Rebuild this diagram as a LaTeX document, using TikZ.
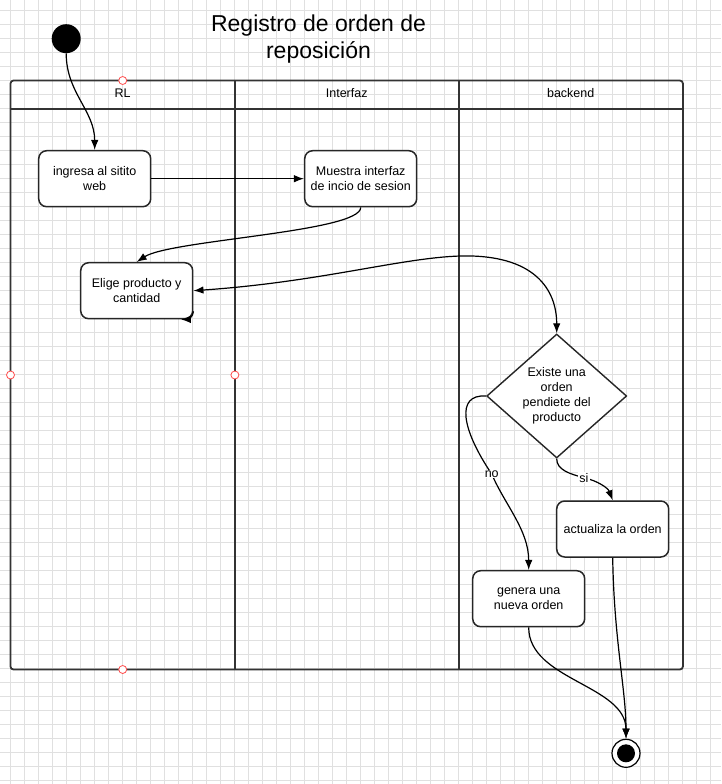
\documentclass[tikz,border=0pt]{standalone}
\usepackage{fontspec}
\setmainfont{Liberation Sans}
\usetikzlibrary{arrows.meta,shapes.geometric}

\tikzset{
	gridline/.style={draw=black!12, line width=0.8pt},
	lanebox/.style={minimum width=224pt, minimum height=588.6pt, inner sep=0pt},
	laneline/.style={draw=black!80, line width=1.8pt},
	lanelabel/.style={font=\fontsize{12.5}{15}\selectfont},
	state/.style={draw=black!85, line width=1.5pt, fill=white, rounded corners=8pt, minimum width=112pt, minimum height=56pt, align=center, inner sep=2pt, font=\fontsize{12.5}{15}\selectfont},
	decision/.style={diamond, aspect=1.13, draw=black!85, line width=1.4pt, fill=white, minimum width=140pt, minimum height=124pt, inner sep=0pt, align=center, font=\fontsize{12.5}{15}\selectfont},
	initial/.style={circle, fill=black, minimum size=29pt, inner sep=0pt},
	final/.style={circle, draw=black, line width=1.2pt, fill=white, minimum size=28pt, inner sep=0pt, path picture={\fill[black] (path picture bounding box.center) circle (9pt);}},
	handle/.style={circle, draw=red!70, fill=white, line width=0.8pt, minimum size=8pt, inner sep=0pt},
	guard/.style={fill=white, inner sep=1pt, font=\fontsize{12.5}{15}\selectfont},
	flow/.style={-{Latex[length=10pt,width=7.5pt]}, line width=1.2pt},
	flowboth/.style={{Latex[length=10pt,width=7.5pt]}-{Latex[length=10pt,width=7.5pt]}, line width=1.2pt}
}

\begin{document}
\begin{tikzpicture}[x=1pt, y=-1pt]

	\useasboundingbox[fill=white] (0,0) rectangle (721,784);
	\foreach \k in {0,...,50} \draw[gridline] (10.7+14*\k,0) -- (10.7+14*\k,784);
	\foreach \k in {0,...,55} \draw[gridline] (0,10.7+14*\k) -- (721,10.7+14*\k);

	\node[font=\fontsize{23}{26.5}\selectfont, align=center] (title) at (318.5, 39) {Registro de orden de\\reposición};

	% swimlanes
	\node[lanebox] (laneRL)   at (122.7, 375) {};
	\node[lanebox] (laneInt)  at (346.7, 375) {};
	\node[lanebox] (laneBack) at (570.7, 375) {};
	\draw[laneline, rounded corners=3pt] (laneRL.north west) rectangle (laneBack.south east);
	\draw[laneline] (10.7, 108.7) -- (682.7, 108.7);
	\draw[laneline] (laneRL.north east) -- (laneRL.south east);
	\draw[laneline] (laneInt.north east) -- (laneInt.south east);
	\node[lanelabel] (hRL)   at (122.7, 93.5) {RL};
	\node[lanelabel] (hInt)  at (346.7, 93.5) {Interfaz};
	\node[lanelabel] (hBack) at (570.7, 93.5) {backend};

	\node[handle] (hN) at (laneRL.north) {};
	\node[handle] (hW) at (laneRL.west)  {};
	\node[handle] (hE) at (laneRL.east)  {};
	\node[handle] (hS) at (laneRL.south) {};

	% states
	\node[initial]  (start)     at (66.2, 38.7)   {};
	\node[state]    (ingresa)   at (94.7, 178.7)  {ingresa al sitito\\web};
	\node[state]    (muestra)   at (360.7, 178.7) {Muestra interfaz\\de incio de sesion};
	\node[state]    (elige)     at (136.7, 290.7) {Elige producto y\\cantidad};
	\node[decision] (existe)    at (556.7, 396)   {Existe una\\orden\\pendiete del\\producto};
	\node[state]    (actualiza) at (612.7, 529)   {actualiza la orden};
	\node[state]    (genera)    at (528.7, 598.7) {genera una\\nueva orden};
	\node[final]    (end)       at (626, 753.3)   {};

	% transitions
	\draw[flow] (start) to[out=-90, in=90] (ingresa.north);
	\path[flow] (ingresa) edge (muestra);
	\draw[flow] (muestra.south) .. controls (360.7, 232) and (170, 240) .. (elige.north);
	\draw[flow] (elige.-20) to[out=-90, in=0] (elige.-33);
	\draw[flowboth] (elige.east) .. controls (320, 282) and (400, 258) .. (460, 256) .. controls (535, 254) and (556.7, 290) .. (existe.north);
	\draw[flow] (existe.west) .. controls (455, 394) and (462, 430) .. (491.7, 474) node[guard] {no} .. controls (505, 505) and (528.7, 530) .. (genera.north);
	\draw[flow] (existe.south) .. controls (556.7, 470) and (570, 474) .. (584, 477.7) node[guard] {si} .. controls (598, 481) and (608, 488) .. (actualiza.north);
	\draw[flow] (genera.south) .. controls (528.7, 680) and (626, 685) .. (end.north);
	\draw[flow] (actualiza.south) .. controls (614, 640) and (626, 690) .. (end.north);

\end{tikzpicture}
\end{document}
